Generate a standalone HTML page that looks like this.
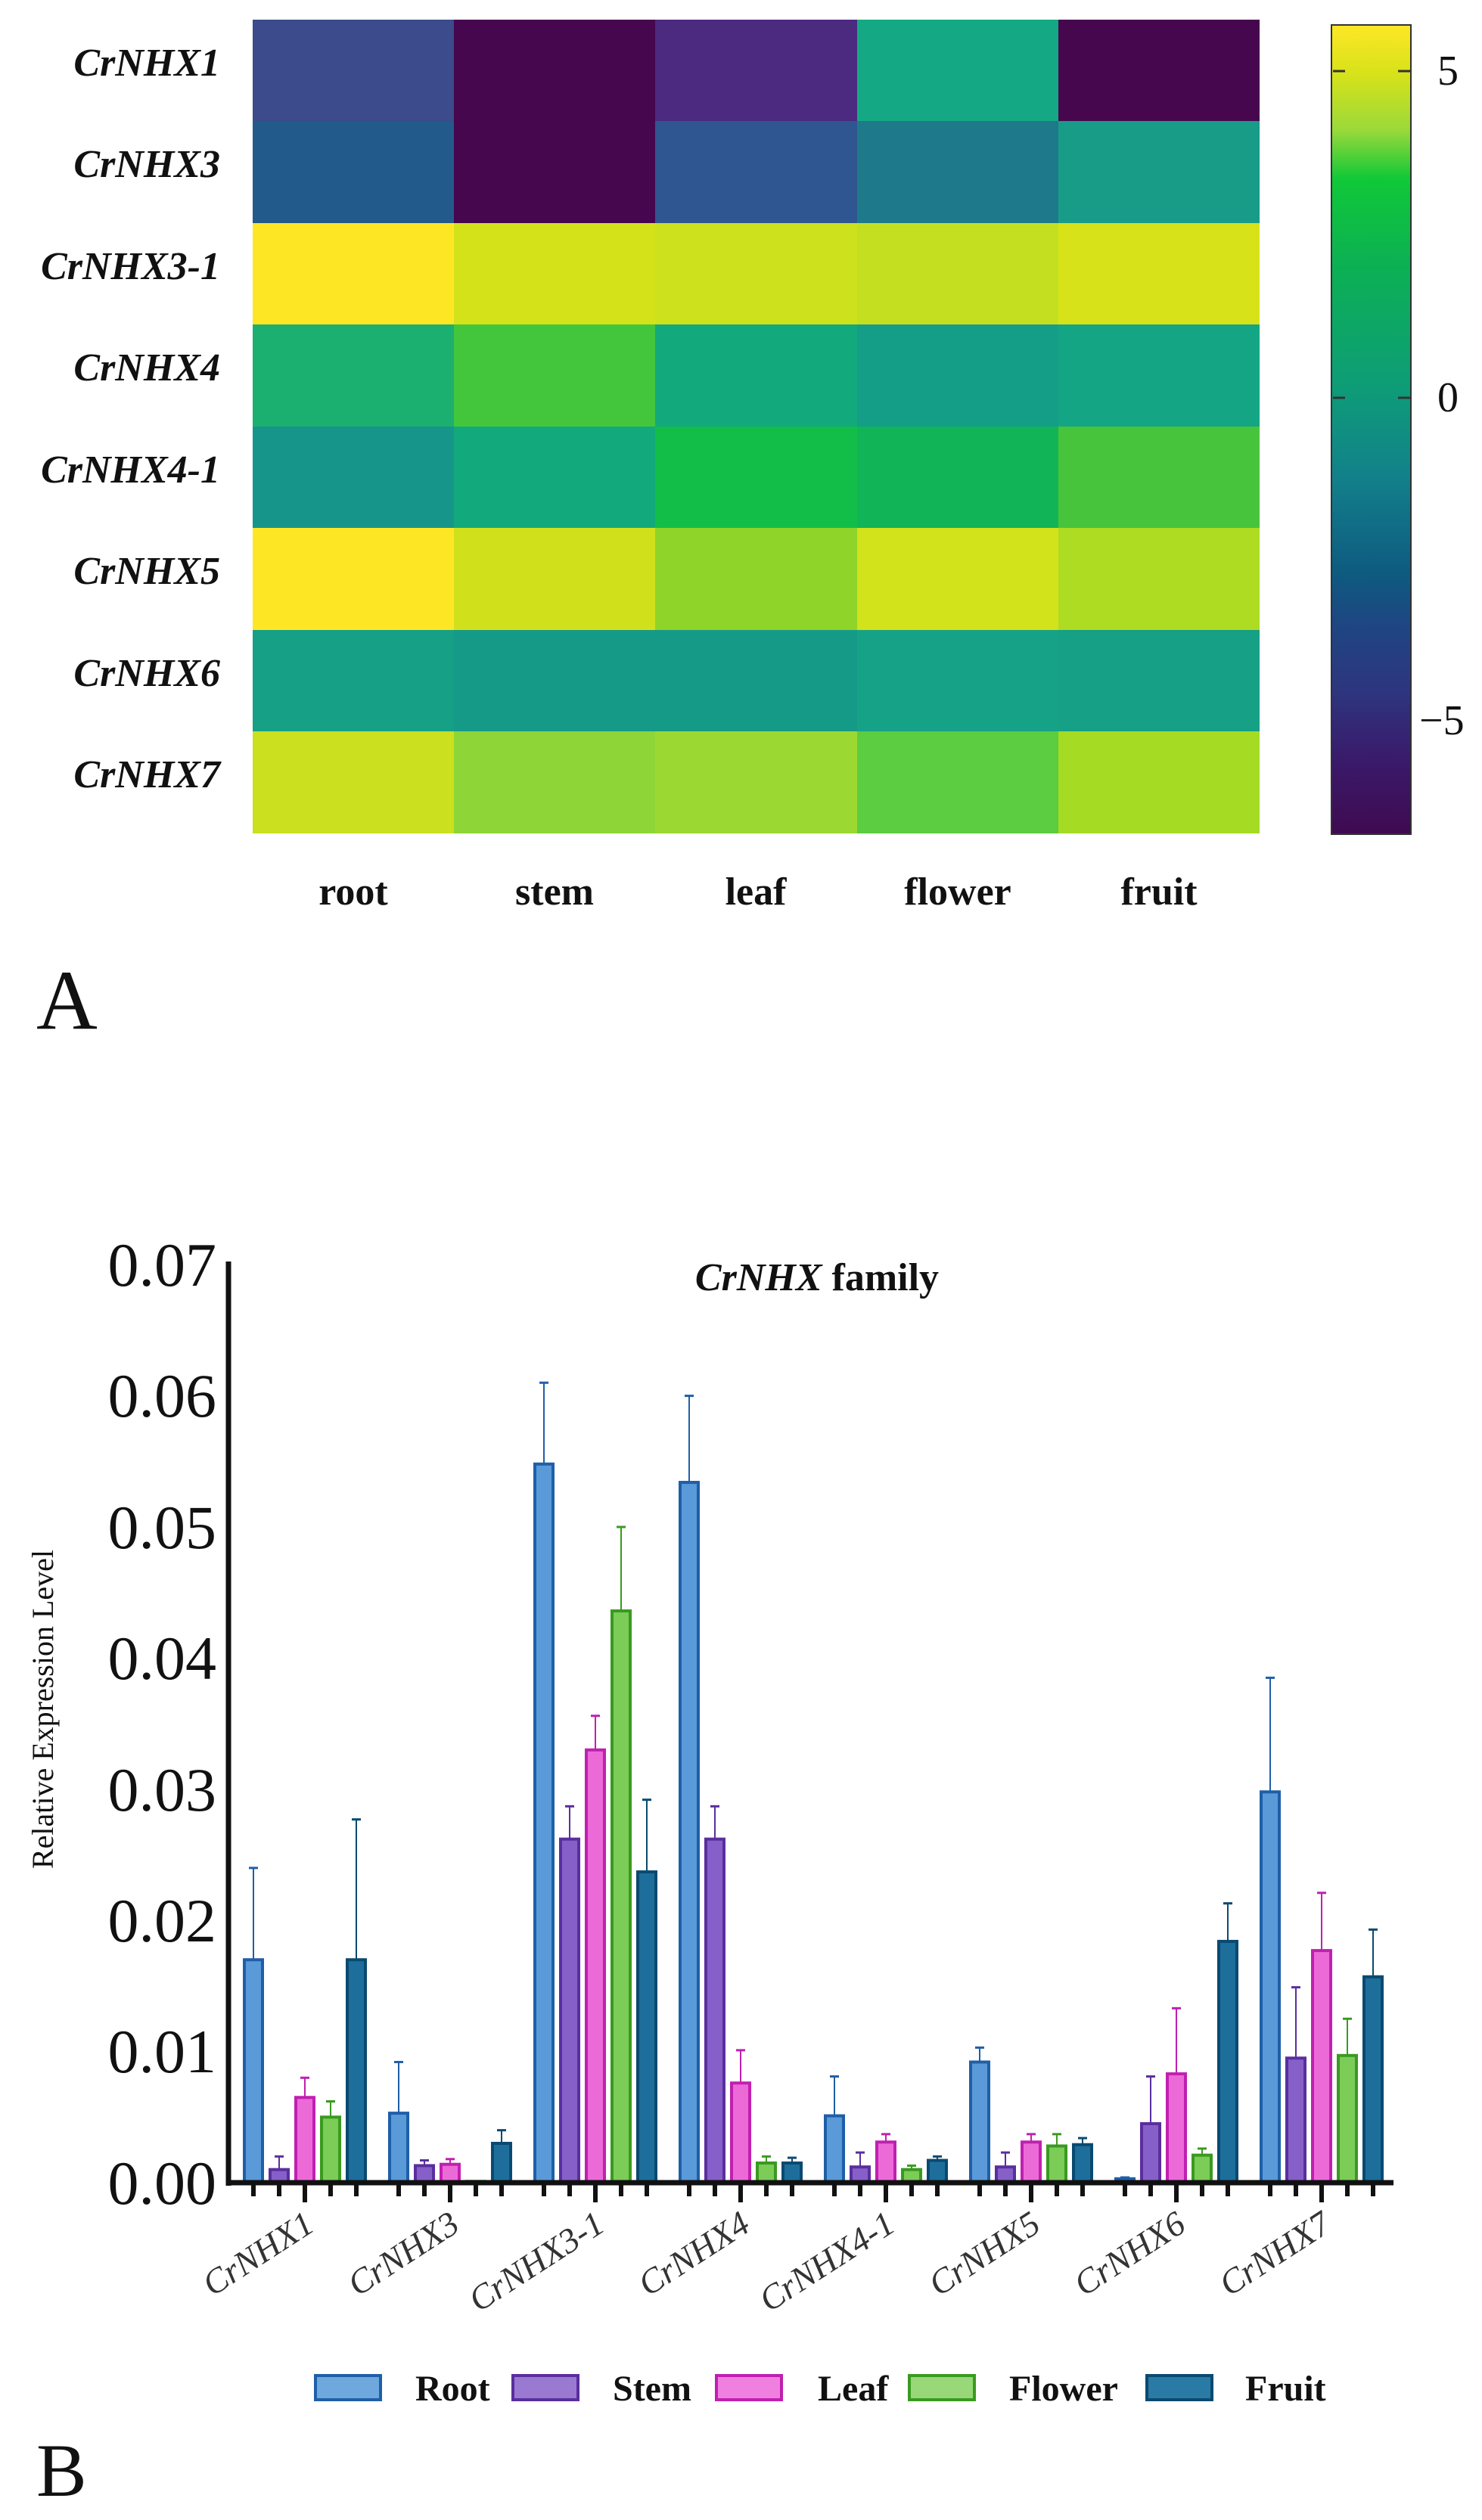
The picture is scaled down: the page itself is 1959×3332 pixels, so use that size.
<!DOCTYPE html>
<html><head><meta charset="utf-8"><style>html,body{margin:0;padding:0;background:#fff}svg{display:block}</style></head>
<body>
<svg width="1959" height="3332" viewBox="0 0 1959 3332" xmlns="http://www.w3.org/2000/svg">
<defs>
<linearGradient id="cb" x1="0" y1="0" x2="0" y2="1">
<stop offset="0" stop-color="#fde725"/><stop offset="0.06" stop-color="#d8e219"/><stop offset="0.13" stop-color="#9ad93a"/><stop offset="0.19" stop-color="#10c838"/><stop offset="0.3" stop-color="#0cb054"/><stop offset="0.45" stop-color="#0e9c78"/><stop offset="0.56" stop-color="#12808a"/><stop offset="0.68" stop-color="#0e5a80"/><stop offset="0.74" stop-color="#1e4682"/><stop offset="0.82" stop-color="#2d3680"/><stop offset="0.91" stop-color="#3a1a6a"/><stop offset="1" stop-color="#3f0a50"/>
</linearGradient>
</defs>
<g id="heat">
<g shape-rendering="crispEdges">
<rect x="334" y="26" width="267" height="135" fill="#3b4b8c"/><rect x="600" y="26" width="267" height="135" fill="#46074f"/><rect x="866" y="26" width="267" height="135" fill="#4b2a80"/><rect x="1133" y="26" width="267" height="135" fill="#14a884"/><rect x="1399" y="26" width="266" height="135" fill="#46074f"/>
<rect x="334" y="160" width="267" height="135" fill="#235a8c"/><rect x="600" y="160" width="267" height="135" fill="#46074f"/><rect x="866" y="160" width="267" height="135" fill="#2f5690"/><rect x="1133" y="160" width="267" height="135" fill="#1e7a8a"/><rect x="1399" y="160" width="266" height="135" fill="#189c88"/>
<rect x="334" y="295" width="267" height="135" fill="#fde725"/><rect x="600" y="295" width="267" height="135" fill="#d4e21a"/><rect x="866" y="295" width="267" height="135" fill="#cde11d"/><rect x="1133" y="295" width="267" height="135" fill="#c4df20"/><rect x="1399" y="295" width="266" height="135" fill="#d8e219"/>
<rect x="334" y="429" width="267" height="135" fill="#1cb070"/><rect x="600" y="429" width="267" height="135" fill="#44c63c"/><rect x="866" y="429" width="267" height="135" fill="#12aa7c"/><rect x="1133" y="429" width="267" height="135" fill="#149e88"/><rect x="1399" y="429" width="266" height="135" fill="#14a684"/>
<rect x="334" y="564" width="267" height="135" fill="#16958b"/><rect x="600" y="564" width="267" height="135" fill="#12aa7c"/><rect x="866" y="564" width="267" height="135" fill="#12be48"/><rect x="1133" y="564" width="267" height="135" fill="#12b458"/><rect x="1399" y="564" width="266" height="135" fill="#48c43c"/>
<rect x="334" y="698" width="267" height="135" fill="#fde725"/><rect x="600" y="698" width="267" height="135" fill="#d0e11c"/><rect x="866" y="698" width="267" height="135" fill="#8fd428"/><rect x="1133" y="698" width="267" height="135" fill="#d2e21b"/><rect x="1399" y="698" width="266" height="135" fill="#addc22"/>
<rect x="334" y="833" width="267" height="135" fill="#16a086"/><rect x="600" y="833" width="267" height="135" fill="#169a88"/><rect x="866" y="833" width="267" height="135" fill="#169a88"/><rect x="1133" y="833" width="267" height="135" fill="#16a286"/><rect x="1399" y="833" width="266" height="135" fill="#16a086"/>
<rect x="334" y="967" width="267" height="135" fill="#cbe01e"/><rect x="600" y="967" width="267" height="135" fill="#8ed638"/><rect x="866" y="967" width="267" height="135" fill="#9bd932"/><rect x="1133" y="967" width="267" height="135" fill="#5ccc40"/><rect x="1399" y="967" width="266" height="135" fill="#a5db22"/>
</g>
<g font-family="Liberation Serif, serif" font-weight="bold" font-style="italic" font-size="52" text-anchor="end" fill="#111">
<text x="291" y="100">CrNHX1</text><text x="291" y="234">CrNHX3</text><text x="291" y="369">CrNHX3-1</text><text x="291" y="503">CrNHX4</text><text x="291" y="638">CrNHX4-1</text><text x="291" y="772">CrNHX5</text><text x="291" y="907">CrNHX6</text><text x="291" y="1041">CrNHX7</text>
</g>
<g font-family="Liberation Serif, serif" font-weight="bold" font-size="52" text-anchor="middle" fill="#111">
<text x="467" y="1196">root</text><text x="733" y="1196">stem</text><text x="999" y="1196">leaf</text><text x="1266" y="1196">flower</text><text x="1532" y="1196">fruit</text>
</g>
<rect x="1760" y="33" width="105" height="1070" fill="url(#cb)" stroke="#333" stroke-width="2"/>
<g stroke="#333" stroke-width="3"><line x1="1762" y1="94" x2="1778" y2="94"/><line x1="1848" y1="94" x2="1864" y2="94"/><line x1="1762" y1="526" x2="1778" y2="526"/><line x1="1848" y1="526" x2="1864" y2="526"/></g>
<g font-family="Liberation Serif, serif" font-size="56" fill="#111"><text x="1900" y="112">5</text><text x="1900" y="544">0</text><text x="1876" y="971">−5</text></g>
<text x="48" y="1360" font-family="Liberation Serif, serif" font-size="112" fill="#111">A</text>
</g>

<g id="bars">
<text x="1080" y="1706" font-family="Liberation Serif, serif" font-weight="bold" font-size="52" text-anchor="middle" fill="#111"><tspan font-style="italic">CrNHX</tspan> family</text>
<text transform="translate(70,2260) rotate(-90)" font-family="Liberation Serif, serif" font-size="40" text-anchor="middle" fill="#111">Relative Expression Level</text>
<g font-family="Liberation Serif, serif" font-size="82" text-anchor="end" fill="#111">
<text x="286" y="1700">0.07</text><text x="286" y="1873">0.06</text><text x="286" y="2047">0.05</text><text x="286" y="2220">0.04</text><text x="286" y="2394">0.03</text><text x="286" y="2567">0.02</text><text x="286" y="2740">0.01</text><text x="286" y="2914">0.00</text>
</g>
<g id="bb"></g>
<g stroke="#111" stroke-width="7">
<line x1="302" y1="1668" x2="302" y2="2890"/>
<line x1="300" y1="2886" x2="1842" y2="2886"/>
</g>
<g id="ticks" stroke="#111" stroke-width="6"></g>
<g font-family="Liberation Serif, serif" font-style="italic" font-size="46" fill="#333" text-anchor="end">
<text transform="translate(418,2948) rotate(-33)">CrNHX1</text>
<text transform="translate(610,2948) rotate(-33)">CrNHX3</text>
<text transform="translate(802,2948) rotate(-33)">CrNHX3-1</text>
<text transform="translate(994,2948) rotate(-33)">CrNHX4</text>
<text transform="translate(1186,2948) rotate(-33)">CrNHX4-1</text>
<text transform="translate(1378,2948) rotate(-33)">CrNHX5</text>
<text transform="translate(1570,2948) rotate(-33)">CrNHX6</text>
<text transform="translate(1762,2948) rotate(-33)">CrNHX7</text>
</g>
<g stroke-width="4">
<rect x="417" y="3141" width="86" height="32" fill="#6fa8dc" stroke="#1f5fa8"/>
<rect x="678" y="3141" width="86" height="32" fill="#9a7ad0" stroke="#5a2e9e"/>
<rect x="947" y="3141" width="86" height="32" fill="#f080e0" stroke="#c020b0"/>
<rect x="1202" y="3141" width="86" height="32" fill="#98d878" stroke="#3a9a20"/>
<rect x="1516" y="3141" width="86" height="32" fill="#2a7aa6" stroke="#0a4a70"/>
</g>
<g font-family="Liberation Serif, serif" font-weight="bold" font-size="48" fill="#111">
<text x="549" y="3174">Root</text><text x="810" y="3174">Stem</text><text x="1081" y="3174">Leaf</text><text x="1334" y="3174">Flower</text><text x="1646" y="3174">Fruit</text>
</g>
<text x="48" y="3300" font-family="Liberation Serif, serif" font-size="100" fill="#111">B</text>
</g>
<script>
(function(){
var ns="http://www.w3.org/2000/svg";
var d=[[[.017,.024],[.001,.002],[.0065,.008],[.005,.0062],[.017,.0277]],
[[.0053,.0092],[.0013,.0017],[.0014,.0018],[.0001,.0001],[.003,.004]],
[[.0548,.061],[.0262,.0287],[.033,.0356],[.0436,.05],[.0237,.0292]],
[[.0534,.06],[.0262,.0287],[.0076,.0101],[.0015,.002],[.0015,.0019]],
[[.0051,.0081],[.0012,.0023],[.0031,.0037],[.001,.0013],[.0017,.002]],
[[.0092,.0103],[.0012,.0023],[.0031,.0037],[.0028,.0037],[.0029,.0034]],
[[.0003,.0004],[.0045,.0081],[.0083,.0133],[.0021,.0026],[.0184,.0213]],
[[.0298,.0385],[.0095,.0149],[.0177,.0221],[.0097,.0125],[.0157,.0193]]];
var fill=["#5a9ad8","#8660c8","#ec6ad8","#7ccc58","#1e6e9c"],st=["#1f5fa8","#5a2e9e","#c020b0","#3a9a20","#0a4a70"];
var g=document.getElementById("bb"),t=document.getElementById("ticks");
function Y(v){return 2886-v*17340;}
function el(n,a,p){var e=document.createElementNS(ns,n);for(var k in a)e.setAttribute(k,a[k]);p.appendChild(e);}
for(var i=0;i<8;i++)for(var j=0;j<5;j++){
var cx=335+192*i+34*j,v=d[i][j][0],e=d[i][j][1];
el("line",{x1:cx,y1:Y(v),x2:cx,y2:Y(e),stroke:st[j],"stroke-width":2},g);
el("line",{x1:cx-6,y1:Y(e),x2:cx+6,y2:Y(e),stroke:st[j],"stroke-width":3},g);
var h=2886-Y(v);
el("rect",{x:cx-12,y:Y(v),width:24,height:h,fill:fill[j],stroke:st[j],"stroke-width":4},g);
}
for(var i=0;i<8;i++){for(var j=0;j<5;j++){var x=335+192*i+34*j;el("line",{x1:x,y1:2886,x2:x,y2:2904},t);}
el("line",{x1:403+192*i,y1:2886,x2:403+192*i,y2:2912},t);}
})();
</script>
</svg>
</body></html>
